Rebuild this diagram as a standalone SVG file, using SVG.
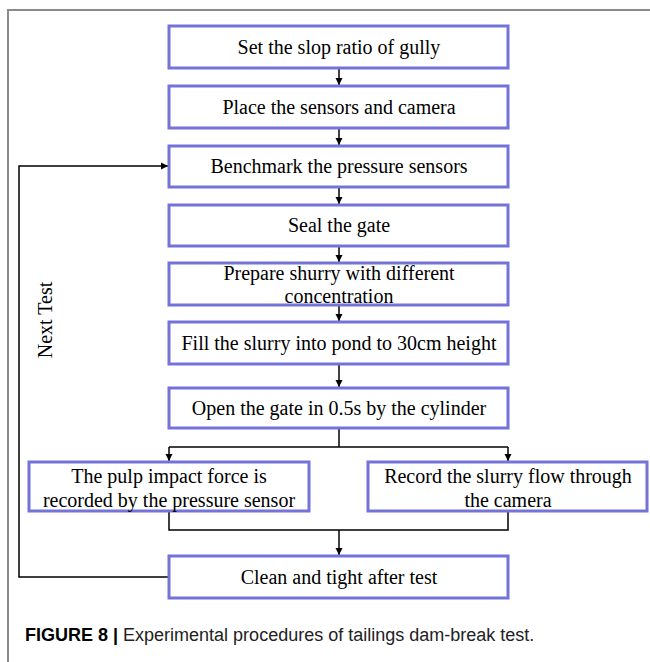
<svg xmlns="http://www.w3.org/2000/svg" width="650" height="662" viewBox="0 0 650 662">
<defs>
<marker id="ah" markerWidth="8" markerHeight="8" refX="7" refY="4" orient="auto" markerUnits="userSpaceOnUse">
<path d="M0,0.5 L7,4 L0,7.5 Z" fill="#000"/>
</marker>
<style>
.box{fill:#fff;stroke:#7373d9;stroke-width:3}
.t{font-family:"Liberation Serif","Times New Roman",serif;font-size:20px;fill:#000;text-anchor:middle}
.c{fill:none;stroke:#000;stroke-width:1.5}
.cap{font-family:"Liberation Sans",Arial,sans-serif;font-size:18px;fill:#222}
</style>
</defs>
<rect width="650" height="662" fill="#fff"/>
<path d="M8,662 V10 H650" fill="none" stroke="#8a8a8a" stroke-width="2"/>
<g id="connectors">
<line class="c" x1="339" y1="68" x2="339" y2="85" marker-end="url(#ah)"/>
<line class="c" x1="339" y1="128" x2="339" y2="145" marker-end="url(#ah)"/>
<line class="c" x1="339" y1="187" x2="339" y2="204" marker-end="url(#ah)"/>
<line class="c" x1="339" y1="246" x2="339" y2="262" marker-end="url(#ah)"/>
<line class="c" x1="339" y1="305" x2="339" y2="321" marker-end="url(#ah)"/>
<line class="c" x1="339" y1="364" x2="339" y2="387" marker-end="url(#ah)"/>
<line class="c" x1="339" y1="428" x2="339" y2="447"/>
<polyline class="c" points="169,447 508,447"/>
<line class="c" x1="169" y1="447" x2="169" y2="461" marker-end="url(#ah)"/>
<line class="c" x1="508" y1="447" x2="508" y2="461" marker-end="url(#ah)"/>
<polyline class="c" points="169,511 169,530 508,530 508,511"/>
<line class="c" x1="339" y1="530" x2="339" y2="555" marker-end="url(#ah)"/>
<polyline class="c" points="169,577 19,577 19,166 168,166" marker-end="url(#ah)"/>
<text transform="translate(52,320) rotate(-90)" class="t">Next Test</text>
</g>
<g id="n1"><rect class="box" x="169" y="26" width="339" height="42"/><text class="t" x="339" y="54">Set the slop ratio of gully</text></g>
<g id="n2"><rect class="box" x="169" y="86" width="339" height="42"/><text class="t" x="339" y="114">Place the sensors and camera</text></g>
<g id="n3"><rect class="box" x="169" y="146" width="339" height="41"/><text class="t" x="339" y="173">Benchmark the pressure sensors</text></g>
<g id="n4"><rect class="box" x="169" y="205" width="339" height="41"/><text class="t" x="339" y="232">Seal the gate</text></g>
<g id="n5"><rect class="box" x="169" y="263" width="339" height="42"/><text class="t" x="339" y="280">Prepare shurry with different</text><text class="t" x="339" y="303">concentration</text></g>
<g id="n6"><rect class="box" x="169" y="322" width="339" height="42"/><text class="t" x="339" y="350">Fill the slurry into pond to 30cm height</text></g>
<g id="n7"><rect class="box" x="169" y="388" width="339" height="40"/><text class="t" x="339" y="415">Open the gate in 0.5s by the cylinder</text></g>
<g id="n8"><rect class="box" x="29" y="462" width="280" height="49"/><text class="t" x="169" y="483">The pulp impact force is</text><text class="t" x="169" y="507">recorded by the pressure sensor</text></g>
<g id="n9"><rect class="box" x="368" y="462" width="279" height="49"/><text class="t" x="508" y="483">Record the slurry flow through</text><text class="t" x="508" y="507">the camera</text></g>
<g id="n10"><rect class="box" x="169" y="556" width="339" height="42"/><text class="t" x="339" y="584">Clean and tight after test</text></g>
<text class="cap" x="25" y="641"><tspan font-weight="bold" fill="#000">FIGURE 8 |</tspan> Experimental procedures of tailings dam-break test.</text>
</svg>
